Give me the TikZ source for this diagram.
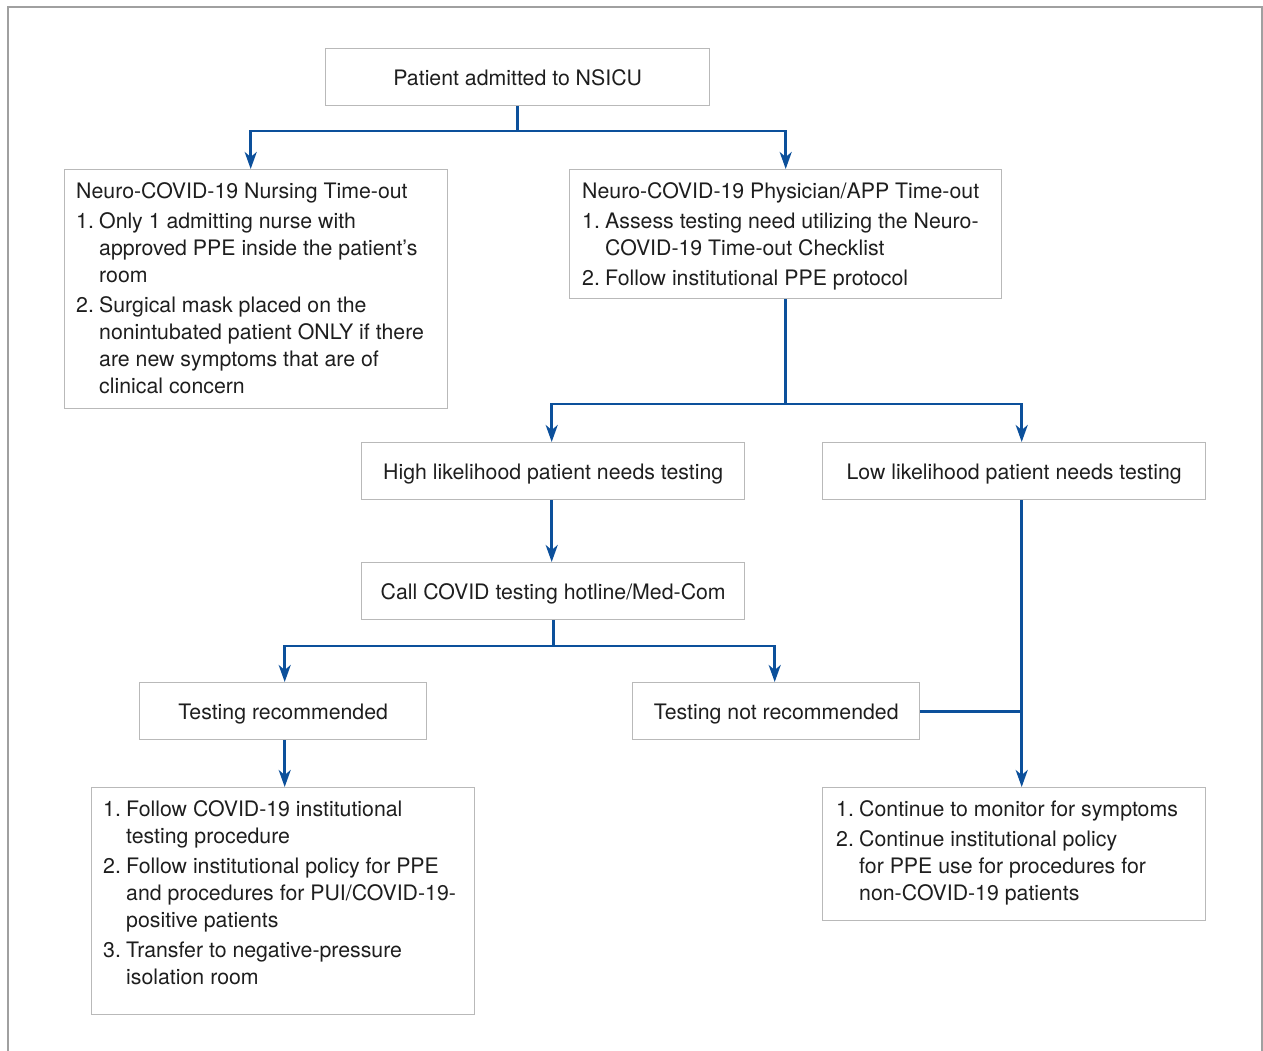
\documentclass[tikz,border=0pt]{standalone}
\usepackage{fontspec}
\setmainfont{TeX Gyre Heros}
\usetikzlibrary{arrows.meta}
\definecolor{flowblue}{RGB}{12,80,155}
\definecolor{boxgray}{RGB}{185,185,185}
\definecolor{framegray}{RGB}{160,160,160}
\definecolor{txtcol}{RGB}{30,30,30}
\newcommand{\nb}[1]{\makebox[23pt][l]{#1}}
\newcommand{\ind}{\hspace*{23pt}}
\begin{document}
\begin{tikzpicture}[x=1pt,y=-1pt,
  every node/.style={font=\fontsize{21.3}{27}\selectfont, text=txtcol},
  box/.style={draw=boxgray, line width=1.4pt, anchor=north west, inner sep=0pt, text height=16pt, text depth=0pt},
  txt/.style={anchor=base west, inner sep=0pt},
  conn/.style={draw=flowblue, line width=2.6pt},
  arr/.style={conn, -{Stealth[length=17pt,width=12pt,inset=5pt]}}
]
\useasboundingbox (0,0) rectangle (1263,1050);
\draw[framegray, line width=1.5pt] (8,1070) -- (8,7) -- (1262,7) -- (1262,1070);

% boxes
\node[box, minimum width=384, minimum height=57] (top) at (325,48) {Patient admitted to NSICU};
\node[box, minimum width=383, minimum height=239] (nurse) at (64,169) {};
\node[box, minimum width=432, minimum height=129] (phys) at (569,169) {};
\node[box, minimum width=383, minimum height=57] (high) at (361,442) {High likelihood patient needs testing};
\node[box, minimum width=383, minimum height=57] (low) at (822,442) {Low likelihood patient needs testing};
\node[box, minimum width=383, minimum height=57] (call) at (361,562) {Call COVID testing hotline/Med-Com};
\node[box, minimum width=287, minimum height=57] (rec) at (139,682) {Testing recommended};
\node[box, minimum width=287, minimum height=57] (notrec) at (632,682) {Testing not recommended};
\node[box, minimum width=383, minimum height=227] (bl) at (91,787) {};
\node[box, minimum width=383, minimum height=133] (br) at (822,787) {};

% multi-line texts
\node[txt] (nurse-t) at ([xshift=12pt,yshift=-29pt]nurse.north west) {\parbox[t]{420pt}{\raggedright
Neuro-COVID-19 Nursing Time-out\\[3pt]
\nb{1.}Only 1 admitting nurse with\\
\ind approved PPE inside the patient’s\\
\ind room\\[3pt]
\nb{2.}Surgical mask placed on the\\
\ind nonintubated patient ONLY if there\\
\ind are new symptoms that are of\\
\ind clinical concern}};
\node[txt] (phys-t) at ([xshift=13pt,yshift=-29pt]phys.north west) {\parbox[t]{420pt}{\raggedright
Neuro-COVID-19 Physician/APP Time-out\\[3pt]
\nb{1.}Assess testing need utilizing the Neuro-\\
\ind COVID-19 Time-out Checklist\\[3pt]
\nb{2.}Follow institutional PPE protocol}};
\node[txt] (bl-t) at ([xshift=12pt,yshift=-29pt]bl.north west) {\parbox[t]{420pt}{\raggedright
\nb{1.}Follow COVID-19 institutional\\
\ind testing procedure\\[3pt]
\nb{2.}Follow institutional policy for PPE\\
\ind and procedures for PUI/COVID-19-\\
\ind positive patients\\[3pt]
\nb{3.}Transfer to negative-pressure\\
\ind isolation room}};
\node[txt] (br-t) at ([xshift=14pt,yshift=-29pt]br.north west) {\parbox[t]{420pt}{\raggedright
\nb{1.}Continue to monitor for symptoms\\[3pt]
\nb{2.}Continue institutional policy\\
\ind for PPE use for procedures for\\
\ind non-COVID-19 patients}};

% connectors
\coordinate (y1) at (0,131);
\coordinate (j1) at (top.south |- y1);
\draw[conn] (top.south) -- (j1);
\draw[arr] (j1) -| ([xshift=-5.5pt]nurse.north);
\draw[arr] (j1) -| (phys.north);

\coordinate (y2) at (0,404);
\coordinate (j2) at (phys.south |- y2);
\draw[conn] (phys.south) -- (j2);
\draw[arr] (j2) -| ([xshift=-1.5pt]high.north);
\draw[arr] (j2) -| ([xshift=7.5pt]low.north);

\draw[arr] ([xshift=-1.5pt]high.south) -- ([xshift=-1.5pt]call.north);

\coordinate (y3) at (0,646);
\coordinate (j3) at (call.south |- y3);
\draw[conn] (call.south) -- (j3);
\draw[arr] (j3) -| ([xshift=1.5pt]rec.north);
\draw[arr] (j3) -| ([xshift=-1.5pt]notrec.north);

\draw[arr] ([xshift=1.5pt]rec.south) -- ([xshift=1.5pt]bl.north);

\coordinate (lowx) at ([xshift=7.5pt]low.south);
\draw[arr] (lowx) -- ([xshift=7.5pt]br.north);
\draw[conn] (notrec.east) -- (notrec.east -| lowx);
\end{tikzpicture}
\end{document}
